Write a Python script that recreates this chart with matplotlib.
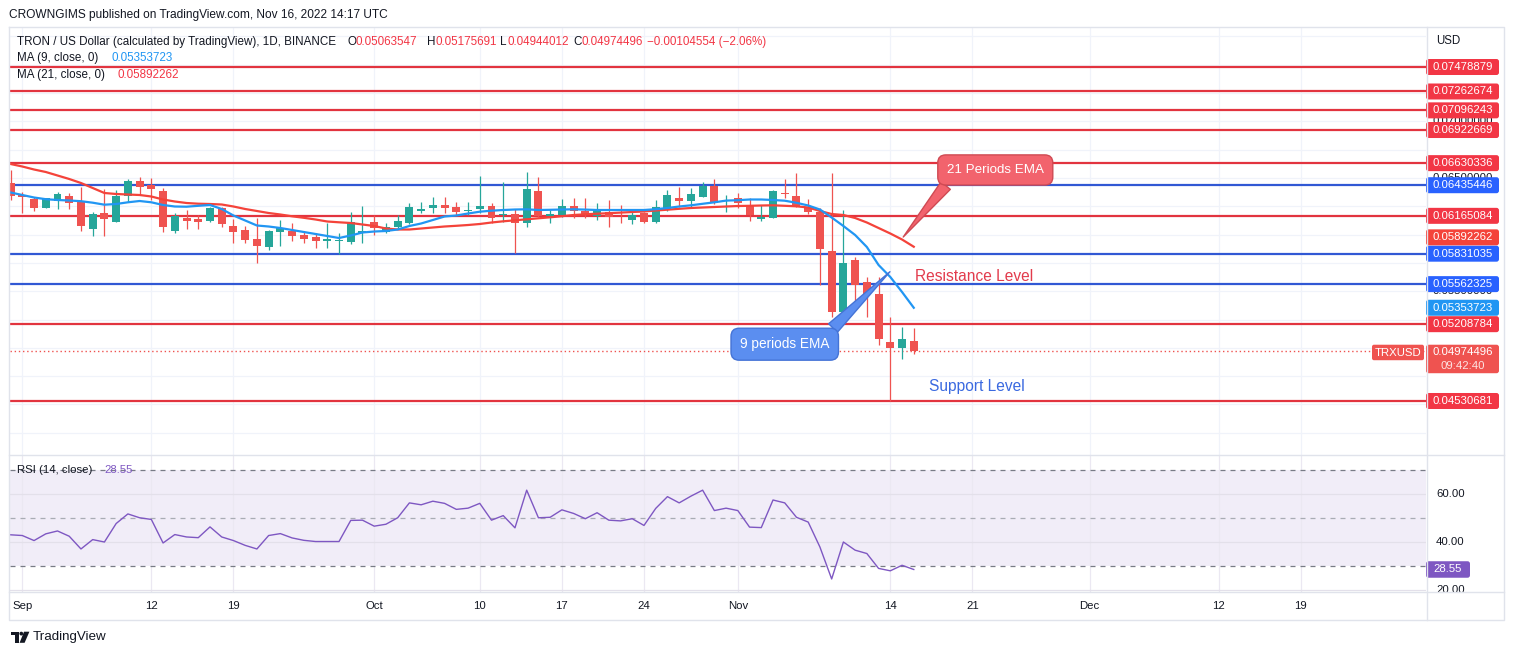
import numpy as np
import pandas as pd
import matplotlib
matplotlib.use("Agg")
import matplotlib.pyplot as plt
import matplotlib.dates as mdates
from matplotlib.patches import FancyBboxPatch, Rectangle, Polygon, Circle
from matplotlib.transforms import IdentityTransform, Bbox
from matplotlib.lines import Line2D

plt.rcParams['font.family'] = ['Liberation Sans', 'DejaVu Sans']

W, H = 1514, 655

# ---------------- data ----------------
start_date = "2022-08-31"
opens = [0.064550, 0.063490, 0.063137, 0.062369, 0.062987, 0.063402, 0.062899, 0.060489, 0.061901, 0.061134,
         0.063402, 0.064726, 0.064400, 0.063870, 0.060339, 0.061487, 0.061398, 0.061222, 0.062343, 0.060710,
         0.060383, 0.059589, 0.058927, 0.060268, 0.060313, 0.059960, 0.059757, 0.059474, 0.059430, 0.059298,
         0.060163, 0.061134, 0.060251, 0.060639, 0.061045, 0.062122, 0.062316, 0.062608, 0.062405, 0.062078,
         0.062281, 0.062519, 0.061743, 0.061787, 0.060992, 0.063843, 0.061663, 0.061725, 0.062519, 0.062078,
         0.061637, 0.062016, 0.062105, 0.061284, 0.061875, 0.061134, 0.062166, 0.063199, 0.062987, 0.063340,
         0.064285, 0.062917, 0.063199, 0.062608, 0.061328, 0.061487, 0.063667, 0.063402, 0.062458, 0.062016,
         0.058574, 0.053189, 0.057753, 0.055837, 0.054752, 0.050541, 0.049959, 0.05063547]
highs = [0.065697, 0.063782, 0.063340, 0.063252, 0.063729, 0.063667, 0.064223, 0.062016, 0.064020, 0.063932,
         0.064876, 0.065106, 0.064964, 0.064082, 0.061928, 0.062166, 0.061698, 0.062458, 0.062458, 0.061372,
         0.060710, 0.061434, 0.060427, 0.061257, 0.061045, 0.060313, 0.060180, 0.061019, 0.060136, 0.062016,
         0.062493, 0.061725, 0.060992, 0.061725, 0.062758, 0.062899, 0.063287, 0.063358, 0.062899, 0.062899,
         0.065141, 0.062758, 0.064611, 0.062228, 0.065547, 0.065106, 0.062166, 0.063111, 0.063199, 0.063199,
         0.062758, 0.063049, 0.062608, 0.062016, 0.062016, 0.063049, 0.063932, 0.064223, 0.064082, 0.064611,
         0.064876, 0.063490, 0.063640, 0.063199, 0.062608, 0.063932, 0.064903, 0.065406, 0.063111, 0.062343,
         0.065459, 0.062166, 0.058044, 0.056279, 0.056279, 0.052748, 0.051812, 0.05175691]
lows = [0.063049, 0.061928, 0.062078, 0.062316, 0.062255, 0.062255, 0.060313, 0.059898, 0.059898, 0.061107,
        0.062899, 0.063490, 0.063049, 0.060251, 0.060163, 0.060463, 0.060463, 0.061134, 0.060692, 0.059227,
        0.059253, 0.057514, 0.058609, 0.058989, 0.059456, 0.059227, 0.058812, 0.058856, 0.058265, 0.059192,
        0.059280, 0.059960, 0.060110, 0.060551, 0.060931, 0.061875, 0.061875, 0.061875, 0.061725, 0.061725,
        0.061875, 0.061045, 0.061134, 0.058344, 0.060639, 0.061575, 0.061045, 0.061575, 0.061434, 0.061434,
        0.061284, 0.060639, 0.061045, 0.060931, 0.061045, 0.061045, 0.062105, 0.062458, 0.062458, 0.063287,
        0.062696, 0.062016, 0.062316, 0.061222, 0.061222, 0.061434, 0.063199, 0.062458, 0.061813, 0.055546,
        0.052748, 0.052748, 0.053931, 0.052748, 0.050250, 0.045307, 0.048988, 0.04944012]
closes = [0.063429, 0.063314, 0.062369, 0.063199, 0.063579, 0.062811, 0.060754, 0.061787, 0.061345, 0.063429,
          0.064726, 0.064170, 0.063993, 0.060639, 0.061637, 0.061169, 0.061081, 0.062343, 0.060931, 0.060268,
          0.059518, 0.058971, 0.060313, 0.060577, 0.059871, 0.059624, 0.059456, 0.059545, 0.059518, 0.061107,
          0.060251, 0.060551, 0.060692, 0.061195, 0.062458, 0.062210, 0.062608, 0.062387, 0.062016, 0.062166,
          0.062519, 0.061434, 0.061813, 0.060992, 0.063993, 0.061637, 0.061813, 0.062519, 0.062105, 0.061725,
          0.062228, 0.061575, 0.062052, 0.061725, 0.061134, 0.062405, 0.063490, 0.062987, 0.063552, 0.064285,
          0.062811, 0.063005, 0.062828, 0.061698, 0.061522, 0.063843, 0.063596, 0.062493, 0.062016, 0.058697,
          0.053189, 0.057462, 0.055546, 0.054752, 0.050753, 0.049959, 0.050790, 0.04974496]
ma9 = [0.063711, 0.063490, 0.063270, 0.063120, 0.063049, 0.063005, 0.062943, 0.062811, 0.062634, 0.062696,
       0.062846, 0.062961, 0.062846, 0.062608, 0.062475, 0.062458, 0.062537, 0.062608, 0.062255, 0.061681,
       0.061239, 0.060798, 0.060710, 0.060577, 0.060401, 0.060224, 0.060048, 0.059871, 0.059695, 0.059915,
       0.060180, 0.060268, 0.060313, 0.060445, 0.060754, 0.060975, 0.061284, 0.061593, 0.061681, 0.061857,
       0.062016, 0.062105, 0.062166, 0.062210, 0.062228, 0.062166, 0.062184, 0.062210, 0.062228, 0.062202,
       0.062166, 0.062166, 0.062166, 0.062166, 0.062166, 0.062237, 0.062343, 0.062475, 0.062581, 0.062714,
       0.062846, 0.062996, 0.063031, 0.063093, 0.063093, 0.063049, 0.062987, 0.062802, 0.062564, 0.062210,
       0.061504, 0.060754, 0.059960, 0.058900, 0.057311, 0.056252, 0.054928, 0.05353723]
ma21 = [0.066227, 0.066006, 0.065741, 0.065521, 0.065212, 0.064903, 0.064550, 0.064108, 0.063667, 0.063579,
        0.063534, 0.063490, 0.063358, 0.063093, 0.062917, 0.062784, 0.062722, 0.062696, 0.062652, 0.062475,
        0.062255, 0.062078, 0.061901, 0.061769, 0.061610, 0.061478, 0.061328, 0.061151, 0.061081, 0.061019,
        0.060886, 0.060754, 0.060533, 0.060445, 0.060445, 0.060533, 0.060622, 0.060710, 0.060772, 0.060842,
        0.060931, 0.061063, 0.061169, 0.061257, 0.061345, 0.061434, 0.061522, 0.061619, 0.061725, 0.061787,
        0.061840, 0.061884, 0.061937, 0.061990, 0.062034, 0.062122, 0.062193, 0.062272, 0.062343, 0.062387,
        0.062431, 0.062475, 0.062519, 0.062537, 0.062564, 0.062581, 0.062537, 0.062493, 0.062387, 0.062078,
        0.061813, 0.061725, 0.061460, 0.061063, 0.060577, 0.060092, 0.059562, 0.05892262]
rsi = [43.0, 42.7, 40.6, 43.4, 44.6, 42.4, 37.1, 41.0, 40.0, 47.7,
       51.7, 50.1, 49.4, 39.6, 43.1, 42.1, 41.8, 46.3, 42.1, 40.6,
       38.6, 37.1, 42.7, 43.5, 41.7, 40.7, 40.2, 40.2, 40.2, 49.0,
       49.1, 46.6, 47.4, 50.1, 56.3, 55.5, 57.0, 56.1, 53.6, 54.1,
       56.1, 49.1, 51.0, 45.9, 61.6, 50.1, 50.3, 53.4, 51.9, 49.7,
       52.2, 49.1, 48.8, 49.7, 46.9, 54.0, 58.9, 56.3, 59.1, 61.6,
       53.1, 54.1, 53.1, 46.2, 46.0, 57.5, 56.3, 50.3, 48.3, 37.9,
       24.6, 40.0, 36.6, 35.2, 29.0, 28.0, 30.3, 28.55]

red_levels = [0.07478879, 0.07262674, 0.07096243, 0.06922669, 0.06630336, 0.06165084, 0.05208784, 0.04530681]
blue_levels = [0.06435446, 0.05831035, 0.05562325]
price_ticks = [0.055, 0.065, 0.070]
rsi_ticks = [20, 40, 60]
tick_dates = ["2022-09-01", "2022-09-12", "2022-09-19", "2022-10-01", "2022-10-10", "2022-10-17",
              "2022-10-24", "2022-11-01", "2022-11-14", "2022-11-21", "2022-12-01", "2022-12-12", "2022-12-19"]
tick_labels = ["Sep", "12", "19", "Oct", "10", "17", "24", "Nov", "14", "21", "Dec", "12", "19"]
last_ohlc = [0.05063547, 0.05175691, 0.04944012, 0.04974496]
change_text = "\u22120.00104554 (\u22122.06%)"
countdown = "09:42:40"

# ---------------- colours ----------------
GREEN = '#26a69a'
RED = '#ef5350'
LVL_RED = '#e2343f'
LVL_BLUE = '#3158d4'
LBL_RED = '#f23645'
LBL_BLUE = '#2962ff'
MA9_C = '#2196f3'
MA21_C = '#f4433a'
RSI_C = '#7e57c2'
TXT = '#131722'
BORDER = '#e0e3eb'
GRID = '#f0f3fa'

dates = pd.date_range(start_date, periods=len(closes), freq="D")
x = mdates.date2num(dates)
x0 = x[0]

fig = plt.figure(figsize=(W / 100, H / 100), dpi=100)
fig.patch.set_facecolor('white')


def axrect(l, t, r, b):
    return [l / W, 1 - b / H, (r - l) / W, (b - t) / H]


ax = fig.add_axes(axrect(10, 27, 1426, 455))
axr = fig.add_axes(axrect(10, 455, 1426, 592), sharex=ax)
for a in (ax, axr):
    for s in a.spines.values():
        s.set_visible(False)
    a.tick_params(left=False, bottom=False, labelleft=False, labelbottom=False)
    a.set_facecolor('none')

ax.set_xlim(x0 - 0.05, x0 + 120.67)
ax.set_ylim(0.040540, 0.078320)
axr.set_ylim(19.17, 76.25)

tick_x = mdates.date2num(pd.to_datetime(tick_dates))

# grids
for tx in tick_x:
    ax.axvline(tx, color=GRID, lw=0.9, zorder=0)
    axr.axvline(tx, color='#ebe8f2', lw=0.9, zorder=0.5)
for gy in np.arange(0.0425, 0.0776, 0.0025):
    ax.axhline(gy, color=GRID, lw=0.9, zorder=0)

# levels
for lv in red_levels:
    ax.axhline(lv, color=LVL_RED, lw=1.6, zorder=2)
for lv in blue_levels:
    ax.axhline(lv, color=LVL_BLUE, lw=1.6, zorder=2)

# current price dotted
ax.axhline(closes[-1], color=RED, lw=1, ls=(0, (1, 2)), zorder=2)

# candles
o = np.array(opens); h = np.array(highs); l = np.array(lows); c = np.array(closes)
up = c >= o
cols = np.where(up, GREEN, RED)
ax.vlines(x, l, h, colors=cols, lw=0.9, zorder=3)
body_lo = np.minimum(o, c)
body_h = np.maximum(np.abs(c - o), 0.00011)
ax.bar(x, body_h, bottom=body_lo, width=0.68, color=cols, edgecolor='none', zorder=3.1)

# moving averages
ax.plot(x, ma21, color=MA21_C, lw=1.6, zorder=4)
ax.plot(x, ma9, color=MA9_C, lw=1.6, zorder=4)

# callouts
ax.annotate("21 Periods EMA", xy=(x0 + 76.1, 0.05978), xytext=(x0 + 83.95, 0.06570),
            color='white', fontsize=9.6, ha='center', va='center', zorder=8,
            bbox=dict(boxstyle='round,pad=0.68,rounding_size=0.6', fc='#f2636d', ec='#cf4a53', lw=1),
            arrowprops=dict(arrowstyle='wedge,tail_width=0.9,shrink_factor=0.5', fc='#f2636d',
                            ec='#cf4a53', lw=1, relpos=(0.08, 0.1), shrinkA=0, shrinkB=0))
ax.annotate("9 periods EMA", xy=(x0 + 74.97, 0.05672), xytext=(x0 + 66.0, 0.05032),
            color='white', fontsize=9.8, ha='center', va='center', zorder=8,
            bbox=dict(boxstyle='round,pad=0.66,rounding_size=0.6', fc='#5b8ef0', ec='#4473d6', lw=1),
            arrowprops=dict(arrowstyle='wedge,tail_width=0.9,shrink_factor=0.5', fc='#5b8ef0',
                            ec='#4473d6', lw=1, relpos=(0.92, 0.9), shrinkA=0, shrinkB=0))
ax.text(x0 + 82.17, 0.05634, "Resistance Level", color='#e23b4c', fontsize=11.2,
        ha='center', va='center', zorder=8)
ax.text(x0 + 82.39, 0.046587, "Support Level", color='#3a69e0', fontsize=11.2,
        ha='center', va='center', zorder=8)

# RSI pane
axr.axhspan(30, 70, color=RSI_C, alpha=0.1, lw=0, zorder=0.2)
for rv in rsi_ticks:
    axr.axhline(rv, color='#e3e0ea', lw=0.9, zorder=0.6)
axr.axhline(70, color='#787b86', lw=0.9, ls=(0, (4, 4)), zorder=1)
axr.axhline(50, color='#a9acb4', lw=0.9, ls=(0, (4, 4)), zorder=1)
axr.axhline(30, color='#787b86', lw=0.9, ls=(0, (4, 4)), zorder=1)
axr.plot(x, rsi, color=RSI_C, lw=1.0, zorder=3)

ID = IdentityTransform()


def ftext(px, py, s, **kw):
    kw.setdefault('va', 'center')
    kw.setdefault('fontsize', 8.3)
    kw.setdefault('color', TXT)
    return fig.text(px, H - py, s, transform=ID, **kw)


# header texts
ftext(9, 15, "CROWNGIMS published on TradingView.com, Nov 16, 2022 14:17 UTC", fontsize=8.6)
ftext(17, 42, "TRON / US Dollar (calculated by TradingView), 1D, BINANCE", fontsize=8.4)
for lbl, px, val in zip("OHLC", [347, 427, 500, 573], last_ohlc):
    ftext(px, 42, lbl, fontsize=8.4)
    ftext(px + 8, 42, f"{val:.8f}", fontsize=8.4, color=LBL_RED)
ftext(647, 42, change_text, fontsize=8.4, color=LBL_RED)
ftext(17, 58, "MA (9, close, 0)", fontsize=8.4)
ftext(112, 58, f"{ma9[-1]:.8f}", fontsize=8.4, color=MA9_C)
ftext(17, 75, "MA (21, close, 0)", fontsize=8.4)
ftext(118, 75, f"{ma21[-1]:.8f}", fontsize=8.4, color=LBL_RED)
ftext(1436, 41, "USD", fontsize=8.3)
ftext(17, 470, "RSI (14, close)", fontsize=8.2)
ftext(104, 470, f"{rsi[-1]:.2f}", fontsize=8.2, color=RSI_C)

# x labels
for tx, tl in zip(tick_x, tick_labels):
    px = ax.transData.transform((tx, 0.05))[0]
    fig.text(px, H - 606, tl, transform=ID, ha='center', va='center', fontsize=8.2, color=TXT)


def ydisp(a, v):
    return a.transData.transform((x0, v))[1]


# price axis tick labels (partly hidden under the level labels)
for pv in price_ticks:
    fig.text(1463, ydisp(ax, pv), f"{pv:.8f}", transform=ID, ha='center', va='center',
             fontsize=8.2, color=TXT, zorder=5)


def plabel(a, value, fc, text, dy=0, x1=1426, w=73, h=16, fs=8.2):
    yc = ydisp(a, value) + dy
    fig.add_artist(FancyBboxPatch((x1, yc - h / 2), w, h, boxstyle='round,pad=0,rounding_size=2.5',
                                  transform=ID, fc=fc, ec='none', zorder=6))
    fig.text(x1 + w / 2, yc, text, transform=ID, ha='center', va='center', fontsize=fs,
             color='white', zorder=7)


for lv in red_levels:
    plabel(ax, lv, LBL_RED, f"{lv:.8f}")
for lv in blue_levels:
    plabel(ax, lv, LBL_BLUE, f"{lv:.8f}")
plabel(ax, ma21[-1], MA21_C, f"{ma21[-1]:.8f}", dy=9.4)
plabel(ax, ma9[-1], MA9_C, f"{ma9[-1]:.8f}")

# current price label (two lines)
yc = ydisp(ax, closes[-1])
fig.add_artist(FancyBboxPatch((1426, yc - 22.5), 73, 28.5, boxstyle='round,pad=0,rounding_size=2.5',
                              transform=ID, fc=RED, ec='none', zorder=6))
fig.text(1463, yc - 1.5, f"{closes[-1]:.8f}", transform=ID, ha='center', va='center',
         fontsize=8.2, color='white', zorder=7)
fig.text(1463, yc - 15.5, countdown, transform=ID, ha='center', va='center',
         fontsize=8.2, color='#fde3e3', zorder=7)
fig.add_artist(FancyBboxPatch((1372, yc - 9.5), 52, 15.5, boxstyle='round,pad=0,rounding_size=2',
                              transform=ID, fc=RED, ec='none', zorder=6))
fig.text(1398, yc - 1.8, "TRXUSD", transform=ID, ha='center', va='center', fontsize=8.2,
         color='white', zorder=7)

# RSI scale
clipbox = Bbox.from_extents(1427, H - 592, 1504, H - 455)
for rv in rsi_ticks:
    t = fig.text(1436, ydisp(axr, rv), f"{rv:.2f}", transform=ID, ha='left', va='center',
                 fontsize=8.2, color=TXT, zorder=5)
    t.set_clip_box(clipbox)
    t.set_clip_on(True)
plabel(axr, rsi[-1], RSI_C, f"{rsi[-1]:.2f}", w=44, h=16.5)

# borders
def fline(xs, ys, **kw):
    fig.add_artist(Line2D(xs, [H - v for v in ys], transform=ID, color=BORDER, lw=1, zorder=9, **kw))


fline([9, 1504, 1504, 9, 9], [27, 27, 620, 620, 27])
fline([1426.5, 1426.5], [27, 620])
fline([9, 1504], [455, 455])
fline([9, 1504], [592, 592])

# TradingView logo
lk = dict(transform=ID, fc='#131722', ec='none', zorder=9)
fig.add_artist(Rectangle((10.7, H - 635.2), 8, 3.5, **lk))
fig.add_artist(Rectangle((15.0, H - 642.8), 3.6, 11.1, **lk))
fig.add_artist(Circle((21.3, H - 633.6), 1.9, **lk))
fig.add_artist(Polygon([(24.0, H - 631.7), (29.4, H - 631.7), (24.6, H - 642.8), (19.6, H - 642.8)], **lk))
ftext(33, 637, "TradingView", fontsize=9.6)

fig.savefig("out.png", dpi=100, facecolor='white')
